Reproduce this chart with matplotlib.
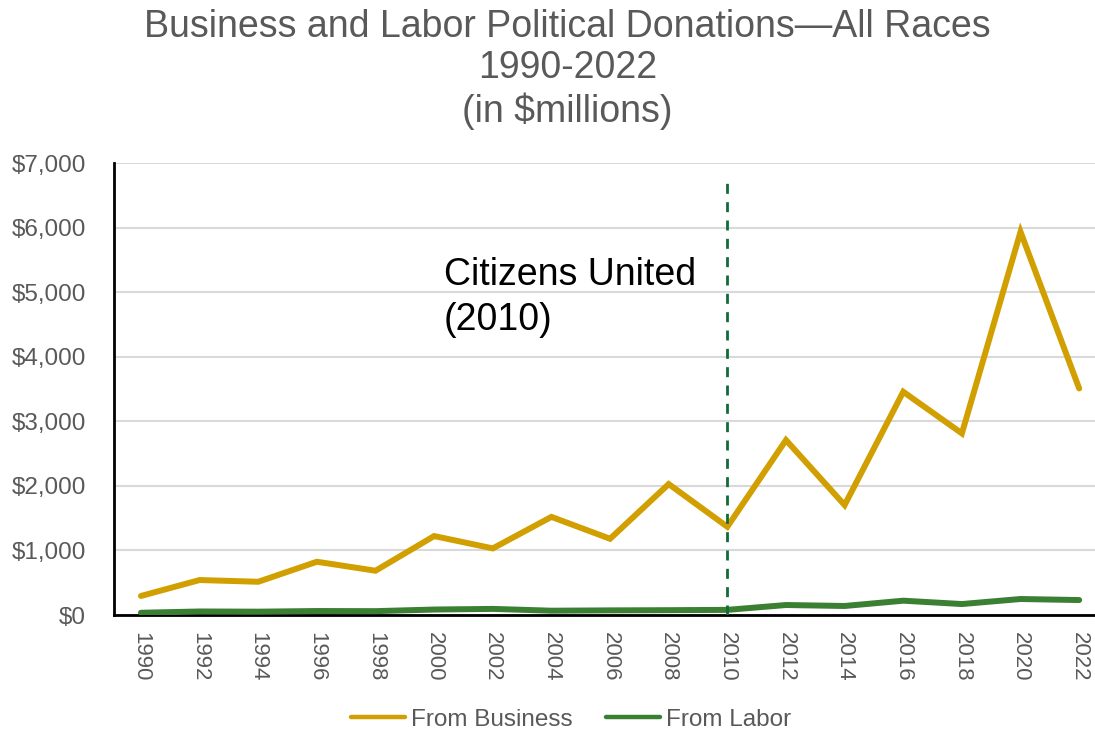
import matplotlib
matplotlib.use("Agg")
import matplotlib.pyplot as plt
from matplotlib.ticker import FuncFormatter

years = ["1990", "1992", "1994", "1996", "1998", "2000", "2002", "2004", "2006",
         "2008", "2010", "2012", "2014", "2016", "2018", "2020", "2022"]
business = [295, 542, 515, 825, 686, 1223, 1032, 1520, 1181,
            2028, 1367, 2709, 1703, 3457, 2813, 5934, 3509]
labor = [35, 55, 52, 62, 60, 85, 95, 67, 72,
         75, 80, 155, 140, 222, 170, 248, 232]

event_year = "2010"
event_label = "Citizens United\n(2010)"

plt.rcParams["font.family"] = ["Liberation Sans", "DejaVu Sans"]
gray = "#595959"
gold = "#D19F00"
green = "#3B7F32"

fig = plt.figure(figsize=(10.95, 7.32), dpi=100)
ax = fig.add_axes([0.1041, 0.1598, 0.8959, 0.6175])

x = list(range(len(years)))
ax.plot(x, business, color=gold, linewidth=4.3, solid_capstyle="round",
        solid_joinstyle="miter", label="From Business", zorder=3)
ax.plot(x, labor, color=green, linewidth=4.3, solid_capstyle="round",
        label="From Labor", zorder=3)

# Citizens United marker
xi = years.index(event_year)
ax.plot([xi, xi], [0, 6700], color="#0E6B3A", linewidth=2, linestyle=(0, (3.6, 3)), zorder=4)
ax.text(xi - 4.83, 4920, event_label, fontsize=27, color="black",
        ha="left", va="center", linespacing=1.3)

ax.set_xlim(-0.46, len(years) - 0.73)
ax.set_ylim(0, 7000)
ax.set_yticks(range(0, 7001, 1000))
ax.yaxis.set_major_formatter(FuncFormatter(lambda v, p: f"${v:,.0f}"))
ax.set_xticks(x)
ax.set_xticklabels(years, rotation=-90)
ax.tick_params(axis="y", length=0, pad=20, labelsize=17.5, labelcolor=gray)
ax.tick_params(axis="x", length=0, pad=12, labelsize=16, labelcolor=gray)

ax.grid(True, axis="y", color="#D9D9D9", linewidth=1.5)
ax.set_axisbelow(True)
for s in ["top", "right"]:
    ax.spines[s].set_visible(False)
for s in ["left", "bottom"]:
    ax.spines[s].set_color("black")
    ax.spines[s].set_linewidth(2)

fig.text(0.518, 0.988, "Business and Labor Political Donations\u2014All Races\n1990-2022\n(in $millions)",
         ha="center", va="top", fontsize=27, color=gray, linespacing=1.2)

leg = fig.legend(loc="center", bbox_to_anchor=(0.5215, 0.0164), ncol=2, frameon=False,
                 fontsize=17.5, handlelength=2.2, handletextpad=0.25, columnspacing=1.4)
for t in leg.get_texts():
    t.set_color(gray)
for h in leg.get_lines():
    h.set_linewidth(3.2)

fig.savefig("out.png", dpi=100)
